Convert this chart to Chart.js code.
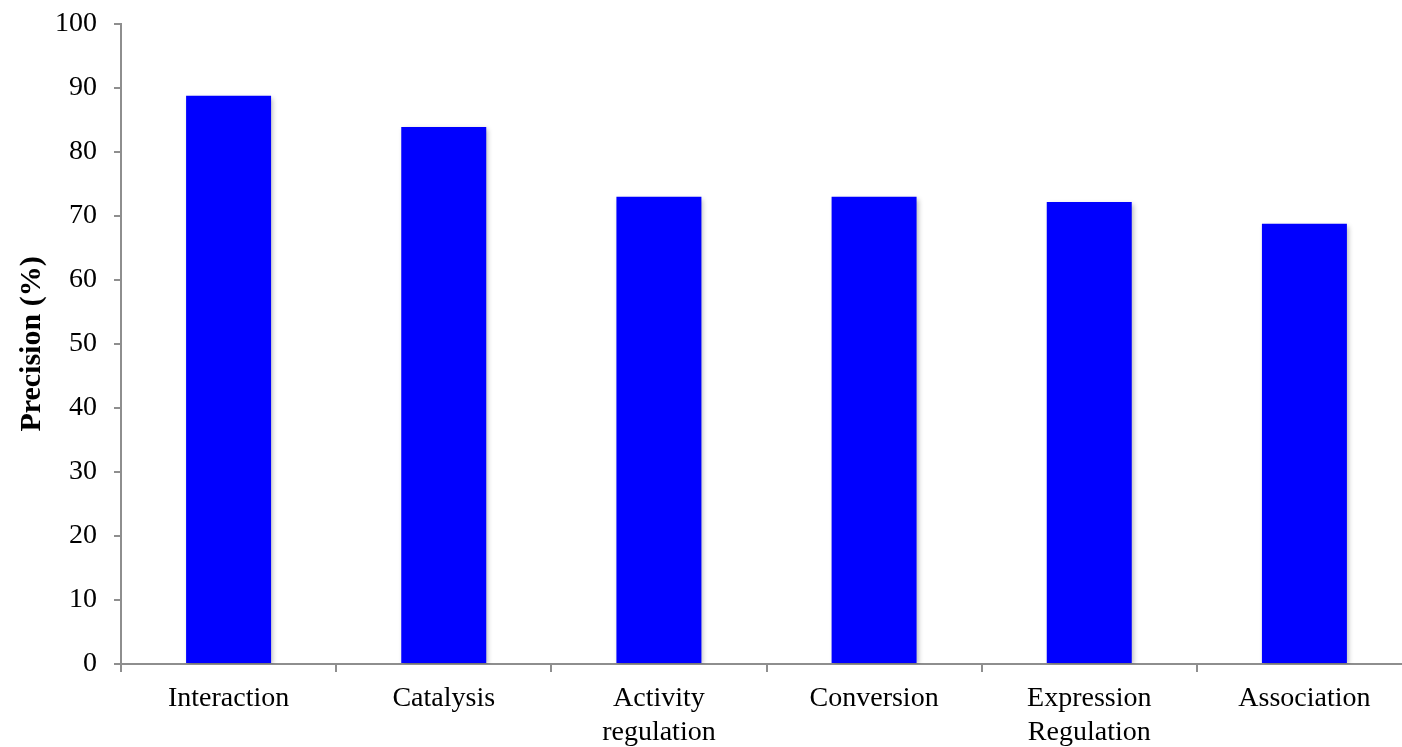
<!DOCTYPE html>
<html>
<head>
<meta charset="utf-8">
<script src="https://cdn.jsdelivr.net/npm/chart.js@4.4.1/dist/chart.umd.min.js"></script>
<style>
  html, body { margin: 0; padding: 0; background: #ffffff; overflow: hidden; }
  #wrap { width: 1412px; height: 747px; }
</style>
</head>
<body>
<div id="wrap"><canvas id="chart" width="1412" height="747"></canvas></div>
<script>
// Relation categories (multi-line labels are arrays)
const categories = [
  'Interaction',
  'Catalysis',
  ['Activity', 'regulation'],
  'Conversion',
  ['Expression', 'Regulation'],
  'Association'
];

// Precision per relation type, in percent
const precision = [88.8, 83.9, 73.0, 73.0, 72.2, 68.8];

// Y axis ticks
const yTicks = [0, 10, 20, 30, 40, 50, 60, 70, 80, 90, 100];

const axisGrey = '#8e8e8e';
const serif = "'Liberation Serif', 'Times New Roman', serif";

// soft drop shadow behind the bars
const barShadow = {
  id: 'barShadow',
  beforeDatasetsDraw(chart) {
    const ctx = chart.ctx;
    ctx.save();
    ctx.shadowColor = 'rgba(0,0,0,0.28)';
    ctx.shadowBlur = 5;
    ctx.shadowOffsetX = 2;
    ctx.shadowOffsetY = 2;
  },
  afterDatasetsDraw(chart) {
    chart.ctx.restore();
  }
};

new Chart(document.getElementById('chart'), {
  type: 'bar',
  data: {
    labels: categories,
    datasets: [{
      label: 'Precision (%)',
      data: precision,
      backgroundColor: '#0000ff',
      borderWidth: 0,
      barPercentage: 0.395,
      categoryPercentage: 1.0
    }]
  },
  plugins: [barShadow],
  options: {
    responsive: false,
    animation: false,
    devicePixelRatio: 1,
    layout: { padding: { top: 23, right: 0, bottom: 0, left: 0 } },
    plugins: {
      legend: { display: false },
      tooltip: { enabled: false }
    },
    scales: {
      x: {
        grid: {
          offset: true,
          drawOnChartArea: false,
          drawTicks: true,
          tickLength: 8,
          color: axisGrey,
          lineWidth: 2
        },
        border: { display: true, color: axisGrey, width: 2 },
        ticks: {
          color: '#000000',
          padding: 10,
          maxRotation: 0,
          autoSkip: false,
          font: { family: serif, size: 28, lineHeight: 1.2 }
        },
        afterFit(scale) { scale.height = 83; }
      },
      y: {
        min: 0,
        max: 100,
        afterBuildTicks(scale) {
          scale.ticks = yTicks.map(v => ({ value: v }));
        },
        grid: {
          drawOnChartArea: false,
          drawTicks: true,
          tickLength: 7,
          color: axisGrey,
          lineWidth: 2
        },
        border: { display: true, color: axisGrey, width: 2 },
        ticks: {
          color: '#000000',
          padding: 17,
          font: { family: serif, size: 28, lineHeight: 0.5 }
        },
        title: {
          display: true,
          text: 'Precision (%)',
          color: '#000000',
          padding: { top: 14, bottom: 0 },
          font: { family: serif, size: 30, weight: 'bold' }
        },
        afterFit(scale) { scale.width = 121; }
      }
    }
  }
});
</script>
</body>
</html>
